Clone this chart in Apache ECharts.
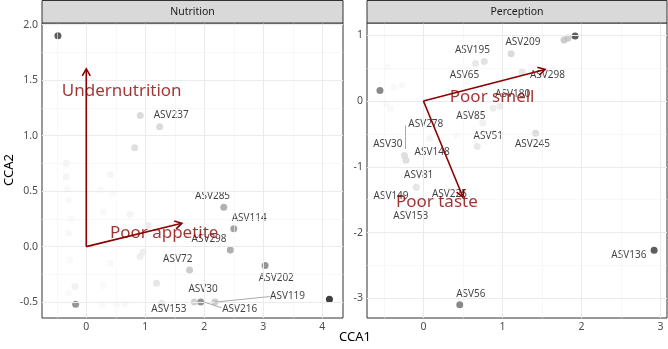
<!DOCTYPE html>
<html>
<head>
<meta charset="utf-8">
<script src="https://cdn.jsdelivr.net/npm/echarts@6/dist/echarts.min.js"></script>
<style>
  html, body { margin: 0; padding: 0; background: #fff; }
  #chart { width: 668px; height: 349px; }
</style>
</head>
<body>
<div id="chart"></div>
<script>
// ---- Nutrition panel ----
// [CCA1, CCA2, weight] weight 0..1 maps to grey shade
const nutritionPoints = [
  [-0.48, 1.90, 0.84], [0.915, 1.18, 0.16], [1.244, 1.08, 0.16], [0.82, 0.89, 0.14],
  [2.33, 0.354, 0.39], [2.50, 0.16, 0.46], [2.44, -0.03, 0.40], [1.75, -0.21, 0.24],
  [3.03, -0.17, 0.54], [1.94, -0.50, 0.54], [1.83, -0.50, 0.22], [2.18, -0.50, 0.24],
  [1.28, -0.51, 0.10], [4.12, -0.475, 1.0], [-0.18, -0.52, 0.54], [1.19, -0.33, 0.10],
  [1.05, 0.19, 0.06], [0.91, -0.09, 0.05], [0.96, -0.05, 0.05], [-0.19, -0.36, 0.04],
  [-0.34, 0.75, 0.02], [-0.34, 0.63, 0.02], [-0.32, 0.52, 0.0], [-0.30, 0.42, 0.0],
  [-0.30, 0.12, 0.0], [-0.28, -0.12, 0.0], [-0.30, -0.42, 0.0], [0.41, 0.65, 0.02],
  [0.25, 0.51, 0.0], [0.44, 0.48, 0.0], [0.74, 0.29, 0.02], [0.29, 0.31, 0.0],
  [0.41, -0.15, 0.0], [0.29, -0.35, 0.0], [0.27, -0.52, 0.0], [0.52, -0.52, 0.0],
  [0.66, -0.52, 0.0], [-0.25, 0.25, 0.0]
];
const nutritionLabels = ['ASV237', 'ASV285', 'ASV114', 'ASV298', 'ASV72', 'ASV202',
  'ASV30', 'ASV119', 'ASV153', 'ASV216'];
const nutritionLabelAt = [[1.44, 1.18], [2.14, 0.456], [2.76, 0.26], [2.08, 0.07],
  [1.55, -0.11], [3.22, -0.28], [1.98, -0.385], [3.41, -0.45], [1.40, -0.56], [2.60, -0.56]];
const nutritionSegments = [[[2.18, -0.50], [3.11, -0.45]], [[2.0, -0.50], [2.29, -0.55]]];
const nutritionArrows = [[0, 0, 0, 1.60], [0, 0, 1.62, 0.21]];
const nutritionArrowNames = ['Undernutrition', 'Poor appetite'];
const nutritionArrowLabelAt = [[0.60, 1.40], [1.32, 0.12]];
const nutritionXTicks = [0, 1, 2, 3, 4];
const nutritionYTicks = [-0.5, 0, 0.5, 1, 1.5, 2];

// ---- Perception panel ----
const perceptionPoints = [
  [1.92, 0.99, 0.84], [1.78, 0.93, 0.24], [1.83, 0.96, 0.24], [-0.55, 0.16, 0.6],
  [1.11, 0.72, 0.16], [0.66, 0.57, 0.09], [0.77, 0.60, 0.12], [1.25, 0.44, 0.09],
  [0.88, -0.11, 0.07], [0.97, -0.08, 0.07], [1.42, -0.49, 0.16], [0.68, -0.69, 0.09],
  [-0.24, -0.83, 0.14], [-0.22, -0.90, 0.14], [0.75, -0.33, 0.04], [-0.09, -1.31, 0.1],
  [-0.03, -1.55, 0.05], [0.50, -1.46, 0.05], [-0.28, -1.46, 0.05], [2.92, -2.27, 0.84],
  [0.46, -3.10, 0.6], [-0.38, 0.21, 0.0], [-0.27, 0.24, 0.0], [-0.47, -0.04, 0.0],
  [0.08, -0.57, 0.02], [0.42, -0.52, 0.0], [-0.42, -0.12, 0.0], [-0.46, 0.52, 0.0],
  [0.30, 0.15, 0.0], [0.55, 0.30, 0.0]
];
const perceptionLabels = ['ASV209', 'ASV195', 'ASV65', 'ASV298', 'ASV180', 'ASV85',
  'ASV278', 'ASV51', 'ASV245', 'ASV30', 'ASV148', 'ASV81', 'ASV149', 'ASV225',
  'ASV153', 'ASV136', 'ASV56'];
const perceptionLabelAt = [[1.26, 0.89], [0.62, 0.77], [0.52, 0.39], [1.57, 0.40],
  [1.13, 0.10], [0.60, -0.23], [0.03, -0.35], [0.82, -0.53], [1.38, -0.66],
  [-0.45, -0.65], [0.11, -0.78], [-0.06, -1.13], [-0.41, -1.45], [0.33, -1.41],
  [-0.16, -1.75], [2.60, -2.34], [0.60, -2.93]];
const perceptionSegments = [[[-0.23, -0.37], [-0.23, -0.73]]];
const perceptionArrows = [[0, 0, 1.54, 0.48], [0, 0, 0.50, -1.46]];
const perceptionArrowNames = ['Poor smell', 'Poor taste'];
const perceptionArrowLabelAt = [[0.87, 0.06], [0.17, -1.54]];
const perceptionXTicks = [0, 1, 2, 3];
const perceptionYTicks = [-3, -2, -1, 0, 1];

const FONT = 'Noto Sans';
const ARROW = '#8b0000';

function shade(w) {
  const g = Math.round(247 - 232 * w);
  return 'rgb(' + g + ',' + g + ',' + g + ')';
}
function mids(t) {
  const step = t[1] - t[0];
  return [t[0] - step / 2].concat(t.map(v => v + step / 2));
}

const panels = [
  { name: 'Nutrition', left: 42, width: 301, xr: [-0.75, 4.35], yr: [-0.643, 2.014],
    pts: nutritionPoints, labs: nutritionLabels, labAt: nutritionLabelAt,
    segs: nutritionSegments, arrows: nutritionArrows, arrowNames: nutritionArrowNames,
    arrowAt: nutritionArrowLabelAt, xt: nutritionXTicks, yt: nutritionYTicks, yfmt: v => v.toFixed(1) },
  { name: 'Perception', left: 367, width: 300, xr: [-0.714, 3.083], yr: [-3.30, 1.187],
    pts: perceptionPoints, labs: perceptionLabels, labAt: perceptionLabelAt,
    segs: perceptionSegments, arrows: perceptionArrows, arrowNames: perceptionArrowNames,
    arrowAt: perceptionArrowLabelAt, xt: perceptionXTicks, yt: perceptionYTicks, yfmt: v => String(v) }
];

const grid = [], xAxis = [], yAxis = [], series = [], graphic = [];

panels.forEach((p, i) => {
  grid.push({ left: p.left, top: 23, width: p.width, height: 295, show: true,
    backgroundColor: '#fff', borderColor: '#333', borderWidth: 1 });
  const axisCommon = {
    type: 'value', gridIndex: i, splitLine: { show: false }, axisLine: { show: false },
    axisTick: { show: true, length: 3, lineStyle: { color: '#333', width: 1 } },
    axisLabel: { color: '#4d4d4d', fontFamily: FONT, fontSize: 10.5, margin: 4 }
  };
  xAxis.push(Object.assign({}, axisCommon, {
    min: p.xr[0], max: p.xr[1],
    axisTick: Object.assign({}, axisCommon.axisTick, { customValues: p.xt }),
    axisLabel: Object.assign({}, axisCommon.axisLabel, { customValues: p.xt })
  }));
  yAxis.push(Object.assign({}, axisCommon, {
    min: p.yr[0], max: p.yr[1],
    axisTick: Object.assign({}, axisCommon.axisTick, { customValues: p.yt }),
    axisLabel: Object.assign({}, axisCommon.axisLabel, { customValues: p.yt, formatter: p.yfmt })
  }));

  // grid lines (theme_bw style)
  const gl = [];
  mids(p.xt).forEach(v => gl.push({ xAxis: v, lineStyle: { color: '#f4f4f4', width: 0.6 } }));
  mids(p.yt).forEach(v => gl.push({ yAxis: v, lineStyle: { color: '#f4f4f4', width: 0.6 } }));
  p.xt.forEach(v => gl.push({ xAxis: v, lineStyle: { color: '#ebebeb', width: 1 } }));
  p.yt.forEach(v => gl.push({ yAxis: v, lineStyle: { color: '#ebebeb', width: 1 } }));
  series.push({
    type: 'scatter', xAxisIndex: i, yAxisIndex: i, data: [], z: 1, silent: true,
    markLine: { silent: true, symbol: ['none', 'none'], label: { show: false },
      lineStyle: { type: 'solid' }, data: gl, animation: false }
  });

  // points
  series.push({
    type: 'scatter', xAxisIndex: i, yAxisIndex: i, z: 2, symbolSize: 7,
    data: p.pts.map(d => ({ value: [d[0], d[1]], itemStyle: { color: shade(d[2]) } }))
  });

  // repel segments
  series.push({
    type: 'scatter', xAxisIndex: i, yAxisIndex: i, data: [], z: 3, silent: true,
    markLine: { silent: true, symbol: ['none', 'none'], label: { show: false },
      lineStyle: { type: 'solid', color: '#aaa', width: 1 }, animation: false,
      data: p.segs.map(s => [{ coord: s[0] }, { coord: s[1] }]) }
  });

  // point labels
  series.push({
    type: 'scatter', xAxisIndex: i, yAxisIndex: i, z: 4, symbolSize: 0,
    data: p.labAt.map((c, k) => [c[0], c[1], p.labs[k]]),
    label: { show: true, position: 'inside', formatter: q => q.data[2],
      color: '#111', fontFamily: FONT, fontSize: 10 }
  });

  // biplot arrows
  series.push({
    type: 'custom', xAxisIndex: i, yAxisIndex: i, z: 5,
    data: p.arrows, encode: { x: [0, 2], y: [1, 3] },
    renderItem: (params, api) => {
      const p0 = api.coord([api.value(0), api.value(1)]);
      const p1 = api.coord([api.value(2), api.value(3)]);
      const ang = Math.atan2(p1[1] - p0[1], p1[0] - p0[0]);
      const L = 8, a = Math.PI / 6;
      const h1 = [p1[0] - L * Math.cos(ang - a), p1[1] - L * Math.sin(ang - a)];
      const h2 = [p1[0] - L * Math.cos(ang + a), p1[1] - L * Math.sin(ang + a)];
      const st = { stroke: ARROW, lineWidth: 1.6, fill: null };
      return { type: 'group', children: [
        { type: 'line', shape: { x1: p0[0], y1: p0[1], x2: p1[0], y2: p1[1] }, style: st },
        { type: 'polyline', shape: { points: [h1, p1, h2] }, style: st }
      ] };
    }
  });

  // arrow labels
  series.push({
    type: 'scatter', xAxisIndex: i, yAxisIndex: i, z: 6, symbolSize: 0,
    data: p.arrowAt.map((c, k) => [c[0], c[1], p.arrowNames[k]]),
    label: { show: true, position: 'inside', formatter: q => q.data[2],
      color: ARROW, fontFamily: FONT, fontSize: 17 }
  });

  // facet strip
  graphic.push({ type: 'rect', shape: { x: p.left, y: 0.5, width: p.width, height: 22.5 },
    style: { fill: '#d9d9d9', stroke: '#333', lineWidth: 1 }, z: 10 });
  graphic.push({ type: 'text', x: p.left + p.width / 2, y: 12, z: 11,
    style: { text: p.name, fill: '#1a1a1a', font: '10.5px "Noto Sans"', align: 'center', verticalAlign: 'middle' } });
});

graphic.push({ type: 'text', x: 355, y: 337, style: { text: 'CCA1', fill: '#000',
  font: '13px "Noto Sans"', align: 'center', verticalAlign: 'middle' } });
graphic.push({ type: 'text', x: 9, y: 170, rotation: Math.PI / 2, style: { text: 'CCA2', fill: '#000',
  font: '13px "Noto Sans"', align: 'center', verticalAlign: 'middle' } });

const chart = echarts.init(document.getElementById('chart'), null, { renderer: 'canvas' });
chart.setOption({
  animation: false,
  backgroundColor: '#fff',
  textStyle: { fontFamily: FONT },
  grid, xAxis, yAxis, series, graphic
});
</script>
</body>
</html>
